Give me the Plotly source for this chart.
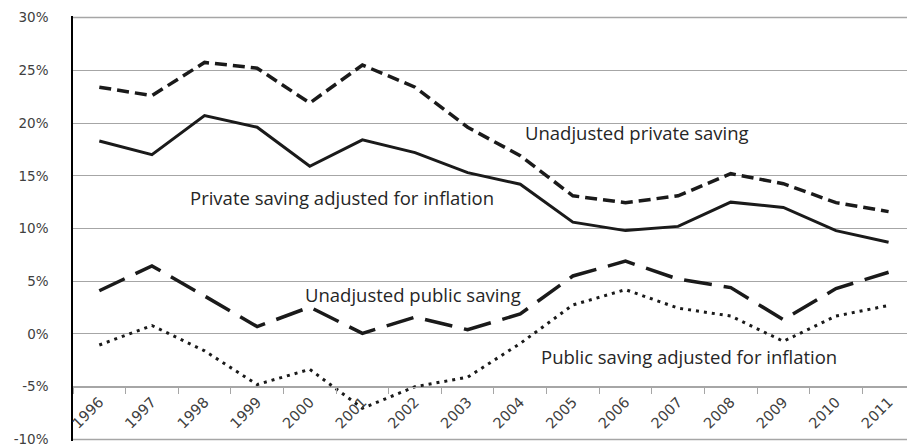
import plotly.graph_objects as go

years = [str(y) for y in range(1996, 2012)]
unadj_private = [23.4, 22.6, 25.75, 25.2, 21.9, 25.5, 23.4, 19.6, 16.9, 13.1, 12.45, 13.1, 15.2, 14.25, 12.45, 11.6]
adj_private = [18.3, 17.0, 20.7, 19.6, 15.9, 18.4, 17.2, 15.3, 14.2, 10.6, 9.8, 10.2, 12.5, 12.0, 9.8, 8.7]
unadj_public = [4.1, 6.45, 3.6, 0.7, 2.55, 0.05, 1.6, 0.4, 1.9, 5.5, 6.9, 5.2, 4.4, 1.35, 4.3, 5.85]
adj_public = [-1.05, 0.8, -1.6, -4.8, -3.35, -7.05, -5.0, -4.1, -0.9, 2.75, 4.2, 2.45, 1.7, -0.7, 1.7, 2.7]

y_ticks = [-10, -5, 0, 5, 10, 15, 20, 25, 30]
y_labels = [f"{v}%" for v in y_ticks]

labels = ["Unadjusted private saving", "Private saving adjusted for inflation",
          "Unadjusted public saving", "Public saving adjusted for inflation"]

fig = go.Figure()

# edge gridlines at the ends of the value range, drawn as x-paper lines via layout shapes
for yv in (y_ticks[0], y_ticks[-1]):
    fig.add_hline(y=yv, line=dict(color="#a6a6a6", width=1.5), layer="below")

fig.add_trace(go.Scatter(x=years, y=unadj_private, mode="lines", name=labels[0],
                         line=dict(color="#1a1a1a", width=3.5, dash="12px,6px")))
fig.add_trace(go.Scatter(x=years, y=adj_private, mode="lines", name=labels[1],
                         line=dict(color="#1a1a1a", width=3)))
fig.add_trace(go.Scatter(x=years, y=unadj_public, mode="lines", name=labels[2],
                         line=dict(color="#1a1a1a", width=3.5, dash="28px,12px")))
fig.add_trace(go.Scatter(x=years, y=adj_public, mode="lines", name=labels[3],
                         line=dict(color="#1a1a1a", width=3, dash="3px,5px")))

ann_font = dict(family="Open Sans", size=18.5, color="#262626")
ann_pos = [(10.22, 19.15), (4.61, 12.9), (5.97, 3.77), (11.2, -2.17)]
for text, (ax, ay) in zip(labels, ann_pos):
    fig.add_annotation(x=ax, y=ay, xref="x", yref="y", text=text, showarrow=False,
                       font=ann_font, xanchor="center", yanchor="middle")

fig.update_layout(
    width=907, height=448,
    margin=dict(l=73, r=0, t=16, b=7, autoexpand=False),
    paper_bgcolor="white", plot_bgcolor="white",
    showlegend=False,
    xaxis=dict(
        type="category", range=[-0.5, 15.35],
        anchor="free", position=0.127, automargin=False,
        showline=True, linecolor="#a6a6a6", linewidth=1,
        ticks="outside", tickson="boundaries", ticklen=6, tickcolor="#a6a6a6",
        tickangle=-45, showgrid=False, zeroline=False,
        tickfont=dict(family="DejaVu Sans", size=14.5, color="#404040"),
    ),
    yaxis=dict(
        range=[-10.15, 30.15], tickvals=y_ticks, ticktext=y_labels, automargin=False,
        showgrid=True, gridcolor="#a6a6a6", gridwidth=1,
        showline=True, linecolor="#000000", linewidth=1.5,
        zeroline=False, ticks="", ticklabelstandoff=20, ticklabeloverflow="allow",
        tickfont=dict(family="DejaVu Sans", size=13.5, color="#404040"),
    ),
)

fig.write_html("out.html", config={"displayModeBar": False},
               post_script="document.body.style.margin='0px';document.body.style.overflow='hidden';")
